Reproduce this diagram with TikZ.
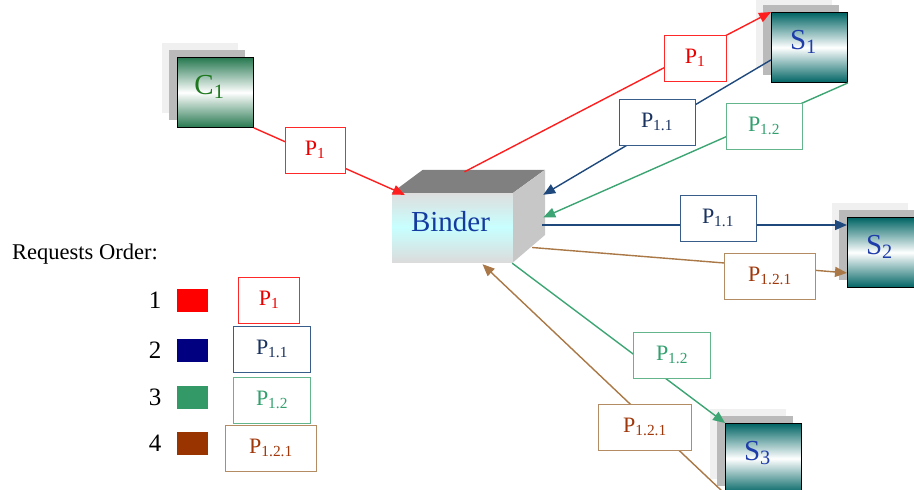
\documentclass[tikz,border=0pt]{standalone}
\usepackage{fontspec}
\setmainfont{Liberation Serif}
\usetikzlibrary{arrows.meta,calc,positioning}

\definecolor{clientgreen}{RGB}{38,120,80}
\definecolor{clienttext}{RGB}{30,120,30}
\definecolor{serverteal}{RGB}{0,100,100}
\definecolor{servertext}{RGB}{30,60,170}
\definecolor{bindertext}{RGB}{20,60,160}
\definecolor{bindercyan}{RGB}{200,255,255}
\definecolor{linered}{RGB}{255,30,30}
\definecolor{lineblue}{RGB}{31,73,125}
\definecolor{linegreen}{RGB}{60,165,115}
\definecolor{linebrown}{RGB}{170,120,70}
\definecolor{tagred}{RGB}{255,40,40}
\definecolor{tagblue}{RGB}{56,93,138}
\definecolor{taggreen}{RGB}{100,180,140}
\definecolor{tagbrown}{RGB}{180,140,100}
\definecolor{txtred}{RGB}{235,0,0}
\definecolor{txtblue}{RGB}{25,50,95}
\definecolor{txtgreen}{RGB}{50,160,110}
\definecolor{txtbrown}{RGB}{160,55,10}
\definecolor{keyred}{RGB}{255,0,0}
\definecolor{keyblue}{RGB}{0,0,128}
\definecolor{keygreen}{RGB}{51,153,102}
\definecolor{keybrown}{RGB}{153,51,0}

\newcommand{\hostfont}{\fontsize{29}{32}\selectfont}
\newcommand{\tagfont}{\fontsize{22}{25}\selectfont}
\newcommand{\keyfont}{\fontsize{22.5}{26}\selectfont}
\newcommand{\numfont}{\fontsize{25}{28}\selectfont}

\begin{document}
\begin{tikzpicture}[x=1pt,y=-1pt,>={Triangle[length=12pt,width=10pt]},
  host/.style={draw=black,line width=0.9pt,minimum width=76,minimum height=70,
    top color=#1,bottom color=#1,middle color=white,font=\hostfont,text depth=16pt},
  client/.style={host=clientgreen,text=clienttext},
  server/.style={host=serverteal,text=servertext},
  r1/.style={draw=linered,line width=1.4pt,->},
  r2/.style={draw=lineblue,line width=1.4pt,->},
  r3/.style={draw=linegreen,line width=1.4pt,->},
  r4/.style={draw=linebrown,line width=1.4pt,->},
  tag/.style={fill=white,line width=0.8pt,minimum height=46,inner sep=2pt,font=\tagfont},
  t1/.style={tag,draw=tagred,text=txtred,minimum width=62},
  t2/.style={tag,draw=tagblue,text=txtblue,minimum width=76},
  t3/.style={tag,draw=taggreen,text=txtgreen,minimum width=77},
  t4/.style={tag,draw=tagbrown,text=txtbrown,minimum width=91},
  keysq/.style={minimum width=31,minimum height=23,inner sep=0pt}]
  \useasboundingbox (0,0) rectangle (914,490);
  \newcommand{\hostbox}[5]{
    \fill[black!6] (#2-15,#3-14) rectangle ++(76,70);
    \fill[black!27] (#2-8,#3-7) rectangle ++(76,70);
    \node[#5,anchor=north west] (#1) at (#2,#3) {#4\hspace*{12pt}};
  }
  % client and servers
  \hostbox{c1}{177}{57}{C\textsubscript{1}}{client}
  \hostbox{s1}{771}{12}{S\textsubscript{1}}{server}
  \hostbox{s2}{847}{217}{S\textsubscript{2}}{server}
  \hostbox{s3}{725}{423}{S\textsubscript{3}}{server}
  % binder box
  \node[minimum width=121,minimum height=69,top color=black!13,bottom color=black!14,
    middle color=bindercyan,text=bindertext,font=\hostfont,text depth=12pt] (binder)
    at (452.5,227.5) {Binder\hspace*{4pt}};
  \fill[black!50] (binder.north west) -- ++(31,-23) -- ++(122,0) -- (binder.north east) -- cycle;
  \fill[black!22] (binder.north east) -- ++(32,-23) -- ++(0,65) -- (binder.south east) -- cycle;
  % requests
  \draw[r1] (c1.south east) -- ($(binder.north west)+(13,2)$);
  \draw[r1] ($(binder.north)+(12,-21)$) -- (s1.north west);
  \draw[r2] ($(s1.south west)+(0,-23)$) -- ($(binder.north east)+(30,2)$);
  \draw[r3] (s1.south east) -- ($(binder.east)+(30,-10)$);
  \draw[r2] ($(binder.east)+(29,-2.5)$) -- ($(s2.north west)+(0,8)$);
  \draw[r4] ($(binder.east)+(19,20)$) -- ($(s2.south west)+(0,-15)$);
  \draw[r3] ($(binder.south east)+(-1,1)$) -- (s3.north west);
  \draw[r4] (s3.south west) -- ($(binder.south)+(30,2)$);
  \node[t1,minimum width=60] (pc1) at (315,150) {P\textsubscript{1}};
  \node[t1] (ps1) at (695,58) {P\textsubscript{1}};
  \node[t2] (p11up) at (657,122) {P\textsubscript{1.1}};
  \node[t3,minimum width=76] (p12up) at (764,126) {P\textsubscript{1.2}};
  \node[t2] (p11s2) at (718,218) {P\textsubscript{1.1}};
  \node[t4] (p121s2) at (770,276) {P\textsubscript{1.2.1}};
  \node[t3] (p12s3) at (672,355) {P\textsubscript{1.2}};
  \node[t4,minimum width=93] (p121s3) at (645,427) {P\textsubscript{1.2.1}};
  % legend
  \node[font=\keyfont,anchor=base west,inner sep=0pt] (order) at (12,259) {Requests Order:};
  \foreach \n/\col/\y in {1/keyred/300.5,2/keyblue/350,3/keygreen/397.5,4/keybrown/443} {
    \node[font=\numfont] (num\n) at (155,\y) {\n};
    \node[keysq,fill=\col] (sq\n) at (192.5,\y) {};
  }
  \node[t1,minimum width=61] (key1) at (269,300) {P\textsubscript{1}};
  \node[t2,minimum width=77] (key2) at (272,349) {P\textsubscript{1.1}};
  \node[t3] (key3) at (272,400) {P\textsubscript{1.2}};
  \node[t4] (key4) at (271,448) {P\textsubscript{1.2.1}};
\end{tikzpicture}
\end{document}
